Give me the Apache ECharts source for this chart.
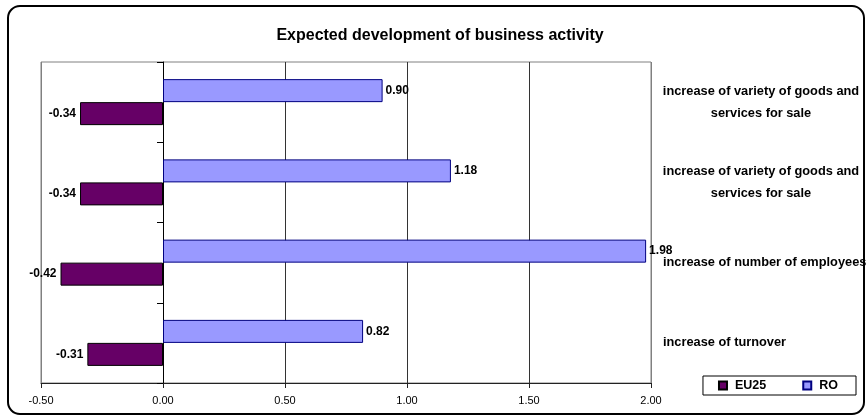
<!DOCTYPE html>
<html><head><meta charset="utf-8">
<script src="https://cdn.jsdelivr.net/npm/echarts@6/dist/echarts.min.js"></script>
<style>html,body{margin:0;padding:0;background:#fff}#c{width:866px;height:419px}</style>
</head><body><div id="c"></div>
<script>
var categories = ['increase of turnover', 'increase of number of employees', 'increase of variety of goods and services for sale', 'increase of variety of goods and services for sale'];
var seriesNames = ['EU25', 'RO'];
var eu25 = [-0.31, -0.42, -0.34, -0.34];
var ro = [0.82, 1.98, 1.18, 0.90];
var xTicks = {min: -0.5, max: 2.0, interval: 0.5};

var FONT = 'Liberation Sans, Arial, sans-serif';
var chart = echarts.init(document.getElementById('c'));
function catLabel(v) {
  if (v.indexOf('variety') >= 0) {
    return '{c|increase of variety of goods and}\n{c|services for sale}';
  }
  return '{l|' + v + '}';
}
function fmt(p) { return p.value.toFixed(2); }
chart.setOption({
  animation: false,
  title: {
    text: 'Expected development of business activity',
    left: 435, textAlign: 'center', top: 23,
    textStyle: {fontFamily: FONT, fontWeight: 'bold', fontSize: 16, color: '#000'}
  },
  graphic: [{
    type: 'rect', shape: {x: 8, y: 6, width: 856, height: 408, r: 12},
    style: {fill: 'none', stroke: '#000', lineWidth: 2}, z: -1
  }],
  legend: {
    data: seriesNames, right: 10, top: 376, orient: 'horizontal',
    icon: 'rect', itemWidth: 8, itemHeight: 8, itemGap: 36,
    padding: [3, 18, 3, 15], borderColor: '#000', borderWidth: 1,
    textStyle: {fontFamily: FONT, fontWeight: 'bold', fontSize: 12.5, color: '#000', padding: [0, 0, 0, 3]}
  },
  grid: {left: 41, right: 215, top: 62, bottom: 36, show: true, borderColor: '#808080', borderWidth: 1, outerBoundsMode: 'none', containLabel: false},
  xAxis: {
    type: 'value', min: xTicks.min, max: xTicks.max, interval: xTicks.interval,
    axisLine: {show: true, onZero: false, lineStyle: {color: '#222', width: 1}},
    axisTick: {show: true, length: 5, lineStyle: {color: '#222'}},
    axisLabel: {formatter: function (v) { return v.toFixed(2); }, fontFamily: FONT, fontSize: 11, color: '#000', margin: 12},
    splitLine: {show: true, lineStyle: {color: ['#808080', '#333', '#333', '#333', '#333', '#808080'], width: 1}}
  },
  yAxis: [{
    type: 'category', data: categories, position: 'left',
    axisLine: {show: true, onZero: true, lineStyle: {color: '#000'}},
    axisTick: {show: true, length: 6, lineStyle: {color: '#000'}},
    axisLabel: {show: false}, splitLine: {show: false}
  }, {
    type: 'category', data: categories, position: 'right',
    axisLine: {show: false}, axisTick: {show: false}, splitLine: {show: false},
    axisLabel: {
      show: true, margin: 12, align: 'left', formatter: catLabel,
      fontFamily: FONT, fontWeight: 'bold', fontSize: 12.8, color: '#000', lineHeight: 22,
      rich: {
        c: {width: 196, align: 'center', fontFamily: FONT, fontWeight: 'bold', fontSize: 12.8, color: '#000', lineHeight: 22},
        l: {fontFamily: FONT, fontWeight: 'bold', fontSize: 12.8, color: '#000'}
      }
    }
  }],
  series: [{
    name: 'RO', type: 'bar', data: ro, yAxisIndex: 0, barWidth: 23, barGap: '0%',
    itemStyle: {color: '#9999FF', borderColor: '#000080', borderWidth: 1},
    label: {show: true, position: 'right', distance: 3, formatter: fmt,
      fontFamily: FONT, fontWeight: 'bold', fontSize: 12, color: '#000'}
  }, {
    name: 'EU25', type: 'bar', data: eu25, yAxisIndex: 0, barWidth: 23, barGap: '0%',
    itemStyle: {color: '#660066', borderColor: '#000', borderWidth: 1},
    label: {show: true, position: 'left', distance: 4, formatter: fmt,
      fontFamily: FONT, fontWeight: 'bold', fontSize: 12, color: '#000'}
  }]
});
</script></body></html>
